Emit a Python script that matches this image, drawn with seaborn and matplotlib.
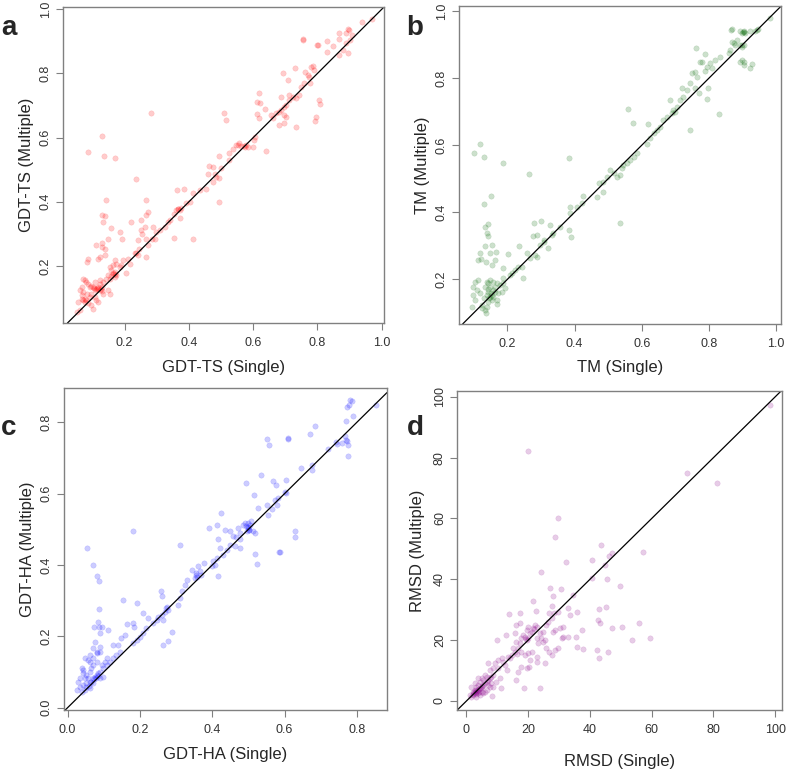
import numpy as np
import pandas as pd
import seaborn as sns
import matplotlib.pyplot as plt

# (single, multiple) pairs, one list per panel
gdt_ts_pairs = [
    (0.94, 0.96), (0.97, 0.97), (0.754, 0.906), (0.756, 0.904), (0.868, 0.925), (0.894, 0.938),
    (0.897, 0.936), (0.888, 0.925), (0.80, 0.889), (0.803, 0.889), (0.831, 0.901), (0.868, 0.906),
    (0.907, 0.92), (0.831, 0.868), (0.868, 0.858), (0.894, 0.865), (0.878, 0.873), (0.888, 0.894),
    (0.90, 0.905), (0.847, 0.884), (0.787, 0.824), (0.78, 0.82), (0.79, 0.81), (0.762, 0.806),
    (0.77, 0.795), (0.776, 0.77), (0.731, 0.816), (0.692, 0.80), (0.708, 0.78), (0.775, 0.79),
    (0.806, 0.717), (0.808, 0.704), (0.797, 0.663), (0.793, 0.653), (0.733, 0.632), (0.681, 0.639),
    (0.697, 0.644), (0.702, 0.663), (0.619, 0.738), (0.613, 0.712), (0.621, 0.707), (0.637, 0.689),
    (0.611, 0.673), (0.619, 0.66), (0.655, 0.67), (0.661, 0.66), (0.671, 0.676), (0.687, 0.686),
    (0.697, 0.696), (0.702, 0.702), (0.712, 0.717), (0.723, 0.728), (0.733, 0.722), (0.743, 0.733),
    (0.712, 0.733), (0.687, 0.728), (0.697, 0.67), (0.68, 0.68), (0.759, 0.769), (0.749, 0.759),
    (0.578, 0.577), (0.573, 0.571), (0.557, 0.582), (0.547, 0.577), (0.562, 0.574), (0.583, 0.571),
    (0.599, 0.571), (0.604, 0.592), (0.607, 0.603), (0.536, 0.566), (0.526, 0.551), (0.64, 0.559),
    (0.51, 0.676), (0.516, 0.655), (0.495, 0.542), (0.526, 0.53), (0.50, 0.504), (0.474, 0.509),
    (0.464, 0.511), (0.459, 0.488), (0.48, 0.488), (0.485, 0.478), (0.474, 0.462), (0.454, 0.441),
    (0.433, 0.436), (0.414, 0.426), (0.495, 0.473), (0.493, 0.398), (0.363, 0.438), (0.386, 0.439),
    (0.36, 0.374), (0.366, 0.379), (0.371, 0.374), (0.376, 0.382), (0.355, 0.363), (0.371, 0.348),
    (0.391, 0.395), (0.402, 0.40), (0.34, 0.343), (0.335, 0.337), (0.324, 0.322), (0.309, 0.311),
    (0.298, 0.306), (0.355, 0.288), (0.414, 0.283), (0.288, 0.322), (0.293, 0.285), (0.286, 0.285),
    (0.283, 0.676), (0.236, 0.47), (0.267, 0.405), (0.272, 0.369), (0.267, 0.358), (0.252, 0.343),
    (0.221, 0.337), (0.262, 0.322), (0.252, 0.311), (0.255, 0.301), (0.241, 0.28), (0.267, 0.285),
    (0.272, 0.265), (0.267, 0.228), (0.236, 0.239), (0.241, 0.233), (0.231, 0.239), (0.246, 0.254),
    (0.21, 0.223), (0.216, 0.207), (0.203, 0.178), (0.19, 0.202), (0.185, 0.197), (0.195, 0.218),
    (0.184, 0.306), (0.192, 0.285), (0.159, 0.317), (0.148, 0.285), (0.141, 0.405), (0.131, 0.605),
    (0.135, 0.543), (0.171, 0.535), (0.086, 0.554), (0.128, 0.358), (0.138, 0.355), (0.133, 0.337),
    (0.131, 0.259), (0.138, 0.254), (0.112, 0.265), (0.128, 0.27), (0.138, 0.233), (0.122, 0.228),
    (0.086, 0.223), (0.083, 0.212), (0.117, 0.223), (0.169, 0.218), (0.164, 0.202), (0.174, 0.207),
    (0.153, 0.197), (0.159, 0.186), (0.169, 0.181), (0.164, 0.176), (0.174, 0.171), (0.148, 0.171),
    (0.143, 0.16), (0.153, 0.16), (0.169, 0.166), (0.133, 0.15), (0.122, 0.145), (0.117, 0.134),
    (0.112, 0.129), (0.128, 0.134), (0.102, 0.134), (0.091, 0.134), (0.107, 0.124), (0.122, 0.124),
    (0.122, 0.155), (0.107, 0.15), (0.086, 0.145), (0.076, 0.155), (0.071, 0.16), (0.081, 0.15),
    (0.096, 0.114), (0.091, 0.103), (0.107, 0.103), (0.076, 0.088), (0.086, 0.083), (0.081, 0.093),
    (0.071, 0.093), (0.066, 0.108), (0.071, 0.119), (0.06, 0.124), (0.066, 0.134), (0.055, 0.088),
    (0.061, 0.062), (0.053, 0.056), (0.112, 0.093), (0.133, 0.114), (0.148, 0.124), (0.153, 0.114),
    (0.117, 0.088), (0.096, 0.077), (0.102, 0.067), (0.066, 0.098), (0.076, 0.098), (0.083, 0.114),
    (0.115, 0.131), (0.125, 0.128), (0.105, 0.131), (0.165, 0.179), (0.171, 0.176), (0.158, 0.168),
    (0.118, 0.127), (0.128, 0.121), (0.095, 0.138), (0.553, 0.576), (0.572, 0.574), (0.366, 0.376),
]

tm_pairs = [
    (0.98, 0.98), (0.947, 0.946), (0.942, 0.942), (0.937, 0.939), (0.923, 0.939), (0.905, 0.94),
    (0.901, 0.936), (0.898, 0.934), (0.893, 0.94), (0.908, 0.934), (0.868, 0.946), (0.865, 0.942),
    (0.903, 0.899), (0.893, 0.899), (0.898, 0.894), (0.898, 0.854), (0.903, 0.849), (0.893, 0.849),
    (0.903, 0.839), (0.923, 0.829), (0.928, 0.842), (0.863, 0.884), (0.873, 0.904), (0.858, 0.874),
    (0.883, 0.914), (0.868, 0.909), (0.878, 0.899), (0.833, 0.864), (0.818, 0.854), (0.804, 0.844),
    (0.794, 0.834), (0.789, 0.822), (0.809, 0.829), (0.761, 0.889), (0.789, 0.871), (0.779, 0.849),
    (0.774, 0.849), (0.749, 0.814), (0.758, 0.819), (0.764, 0.804), (0.798, 0.77), (0.794, 0.737),
    (0.769, 0.755), (0.758, 0.77), (0.744, 0.784), (0.734, 0.765), (0.724, 0.745), (0.714, 0.735),
    (0.704, 0.715), (0.694, 0.705), (0.689, 0.695), (0.674, 0.685), (0.664, 0.675), (0.719, 0.77),
    (0.684, 0.735), (0.699, 0.70), (0.831, 0.692), (0.744, 0.645), (0.56, 0.707), (0.573, 0.665),
    (0.618, 0.663), (0.655, 0.655), (0.645, 0.645), (0.635, 0.635), (0.625, 0.62), (0.615, 0.603),
    (0.585, 0.576), (0.576, 0.566), (0.566, 0.556), (0.555, 0.546), (0.545, 0.541), (0.54, 0.531),
    (0.535, 0.511), (0.526, 0.506), (0.516, 0.516), (0.506, 0.526), (0.496, 0.506), (0.486, 0.491),
    (0.474, 0.486), (0.486, 0.461), (0.466, 0.445), (0.535, 0.367), (0.382, 0.561), (0.263, 0.514),
    (0.426, 0.447), (0.421, 0.427), (0.406, 0.417), (0.387, 0.397), (0.385, 0.417), (0.382, 0.347),
    (0.39, 0.327), (0.357, 0.357), (0.337, 0.337), (0.332, 0.332), (0.327, 0.362), (0.309, 0.317),
    (0.322, 0.292), (0.299, 0.374), (0.28, 0.369), (0.287, 0.332), (0.275, 0.329), (0.297, 0.302),
    (0.282, 0.273), (0.287, 0.268), (0.267, 0.263), (0.258, 0.278), (0.236, 0.299), (0.201, 0.275),
    (0.246, 0.203), (0.243, 0.238), (0.233, 0.238), (0.223, 0.228), (0.213, 0.218), (0.208, 0.213),
    (0.102, 0.578), (0.119, 0.604), (0.131, 0.564), (0.186, 0.548), (0.152, 0.448), (0.131, 0.425),
    (0.133, 0.357), (0.141, 0.364), (0.14, 0.339), (0.143, 0.329), (0.132, 0.299), (0.153, 0.302),
    (0.119, 0.278), (0.114, 0.258), (0.122, 0.26), (0.136, 0.253), (0.149, 0.278), (0.162, 0.258),
    (0.166, 0.283), (0.153, 0.243), (0.188, 0.233), (0.114, 0.198), (0.138, 0.193), (0.148, 0.198),
    (0.132, 0.178), (0.148, 0.178), (0.158, 0.168), (0.168, 0.188), (0.178, 0.183), (0.188, 0.188),
    (0.193, 0.173), (0.143, 0.163), (0.138, 0.153), (0.148, 0.148), (0.158, 0.148), (0.153, 0.138),
    (0.143, 0.133), (0.129, 0.143), (0.119, 0.158), (0.109, 0.168), (0.099, 0.153), (0.104, 0.138),
    (0.099, 0.178), (0.124, 0.123), (0.138, 0.118), (0.132, 0.108), (0.136, 0.099), (0.124, 0.114),
    (0.094, 0.118), (0.168, 0.128), (0.168, 0.138), (0.173, 0.158), (0.183, 0.163), (0.163, 0.178),
    (0.188, 0.203), (0.143, 0.188), (0.158, 0.193), (0.104, 0.193), (0.151, 0.158), (0.155, 0.152),
    (0.146, 0.145), (0.141, 0.171), (0.162, 0.161), (0.904, 0.938), (0.899, 0.898), (0.31, 0.312),
]

gdt_ha_pairs = [
    (0.852, 0.848), (0.782, 0.863), (0.785, 0.86), (0.772, 0.842), (0.778, 0.848), (0.789, 0.817),
    (0.771, 0.803), (0.683, 0.79), (0.671, 0.767), (0.766, 0.761), (0.769, 0.751), (0.772, 0.748),
    (0.759, 0.742), (0.775, 0.737), (0.775, 0.706), (0.743, 0.745), (0.745, 0.74), (0.72, 0.726),
    (0.608, 0.756), (0.61, 0.753), (0.552, 0.753), (0.557, 0.735), (0.646, 0.672), (0.677, 0.681),
    (0.677, 0.667), (0.536, 0.653), (0.568, 0.634), (0.575, 0.625), (0.603, 0.639), (0.605, 0.602),
    (0.60, 0.604), (0.582, 0.587), (0.579, 0.567), (0.564, 0.558), (0.55, 0.567), (0.554, 0.541),
    (0.573, 0.583), (0.493, 0.631), (0.515, 0.595), (0.527, 0.559), (0.628, 0.494), (0.629, 0.478),
    (0.585, 0.436), (0.588, 0.436), (0.517, 0.431), (0.524, 0.402), (0.494, 0.508), (0.499, 0.503),
    (0.502, 0.499), (0.497, 0.494), (0.504, 0.513), (0.49, 0.517), (0.485, 0.513), (0.508, 0.522),
    (0.513, 0.494), (0.476, 0.489), (0.471, 0.503), (0.517, 0.489), (0.499, 0.517), (0.424, 0.545),
    (0.391, 0.503), (0.412, 0.513), (0.417, 0.473), (0.435, 0.497), (0.448, 0.494), (0.458, 0.48),
    (0.466, 0.477), (0.476, 0.473), (0.462, 0.452), (0.476, 0.447), (0.31, 0.455), (0.421, 0.447),
    (0.44, 0.443), (0.448, 0.457), (0.43, 0.428), (0.412, 0.419), (0.402, 0.41), (0.398, 0.396),
    (0.407, 0.40), (0.417, 0.368), (0.377, 0.405), (0.366, 0.382), (0.356, 0.377), (0.352, 0.363),
    (0.345, 0.386), (0.329, 0.358), (0.324, 0.344), (0.315, 0.326), (0.31, 0.307), (0.306, 0.288),
    (0.273, 0.279), (0.269, 0.269), (0.26, 0.26), (0.246, 0.246), (0.237, 0.237), (0.218, 0.223),
    (0.209, 0.209), (0.20, 0.199), (0.191, 0.19), (0.181, 0.181), (0.37, 0.372), (0.361, 0.396),
    (0.258, 0.326), (0.262, 0.312), (0.263, 0.246), (0.263, 0.176), (0.278, 0.187), (0.29, 0.213),
    (0.25, 0.255), (0.223, 0.251), (0.209, 0.265), (0.18, 0.494), (0.193, 0.293), (0.154, 0.302),
    (0.163, 0.234), (0.18, 0.237), (0.183, 0.227), (0.158, 0.204), (0.149, 0.195), (0.14, 0.176),
    (0.126, 0.176), (0.054, 0.447), (0.069, 0.40), (0.08, 0.368), (0.087, 0.356), (0.087, 0.276),
    (0.112, 0.218), (0.074, 0.227), (0.083, 0.24), (0.087, 0.227), (0.089, 0.209), (0.094, 0.227),
    (0.076, 0.185), (0.069, 0.167), (0.089, 0.171), (0.089, 0.157), (0.08, 0.152), (0.048, 0.138),
    (0.057, 0.134), (0.062, 0.129), (0.039, 0.11), (0.043, 0.106), (0.043, 0.096), (0.052, 0.092),
    (0.048, 0.082), (0.034, 0.082), (0.029, 0.073), (0.034, 0.059), (0.025, 0.05), (0.043, 0.064),
    (0.052, 0.068), (0.062, 0.073), (0.071, 0.082), (0.076, 0.087), (0.08, 0.092), (0.085, 0.096),
    (0.089, 0.101), (0.099, 0.11), (0.108, 0.12), (0.117, 0.129), (0.126, 0.138), (0.135, 0.148),
    (0.145, 0.157), (0.062, 0.101), (0.066, 0.11), (0.071, 0.12), (0.08, 0.129), (0.094, 0.12),
    (0.108, 0.138), (0.103, 0.129), (0.057, 0.082), (0.052, 0.059), (0.048, 0.05), (0.062, 0.054),
    (0.071, 0.068), (0.039, 0.045), (0.089, 0.082), (0.099, 0.087), (0.062, 0.148), (0.071, 0.138),
    (0.08, 0.157), (0.074, 0.079), (0.079, 0.084), (0.084, 0.088), (0.066, 0.071), (0.058, 0.062),
    (0.498, 0.506), (0.501, 0.497), (0.355, 0.372), (0.358, 0.367), (0.276, 0.281), (0.278, 0.275),
]

rmsd_pairs = [
    (98.4, 97.3), (71.4, 74.8), (81.1, 71.7), (20.0, 82.3), (29.7, 60.0), (28.6, 54.0),
    (57.1, 49.1), (43.5, 51.3), (40.5, 46.4), (47.0, 48.5), (46.2, 47.8), (44.9, 44.7),
    (45.4, 40.0), (40.5, 40.5), (49.7, 37.8), (32.2, 45.8), (24.1, 42.3), (27.2, 37.3),
    (30.5, 36.8), (28.1, 34.6), (34.6, 34.8), (21.6, 33.0), (22.5, 29.6), (13.8, 28.7),
    (17.5, 29.0), (27.8, 31.3), (26.8, 28.8), (28.4, 29.0), (29.7, 29.4), (32.8, 30.7),
    (33.5, 28.3), (35.7, 29.4), (42.9, 30.2), (45.1, 30.8), (43.2, 25.5), (42.7, 26.6),
    (37.5, 23.3), (47.0, 24.0), (50.3, 24.2), (55.9, 25.7), (53.7, 19.9), (59.5, 20.6),
    (45.9, 16.2), (42.4, 16.8), (43.0, 14.0), (37.8, 17.0), (35.7, 17.9), (35.5, 21.1),
    (18.7, 4.2), (23.8, 4.4), (8.4, 1.6), (28.1, 22.8), (28.6, 23.3), (30.3, 23.9),
    (31.4, 24.4), (30.8, 20.6), (31.4, 21.1), (33.0, 21.1), (25.9, 25.0), (26.5, 26.1),
    (27.6, 27.2), (24.9, 22.8), (23.8, 22.2), (22.7, 20.6), (23.2, 19.0), (24.9, 19.5),
    (25.9, 17.3), (26.8, 16.2), (27.6, 15.1), (28.6, 16.8), (29.7, 17.3), (25.4, 20.0),
    (24.3, 20.6), (20.5, 22.2), (21.1, 22.8), (21.6, 23.9), (22.2, 25.0), (22.7, 24.4),
    (20.0, 24.4), (19.5, 23.3), (18.4, 21.7), (17.8, 20.6), (18.9, 21.1), (19.5, 20.0),
    (17.3, 19.0), (16.2, 19.5), (16.8, 17.3), (15.7, 16.2), (15.1, 17.3), (14.6, 15.1),
    (14.1, 14.0), (13.5, 14.6), (17.8, 16.2), (18.9, 15.1), (20.0, 15.7), (21.1, 16.2),
    (22.7, 14.6), (20.5, 13.5), (19.5, 10.7), (20.3, 11.3), (22.7, 12.9), (25.4, 12.4),
    (17.8, 11.3), (16.8, 9.6), (16.2, 6.9), (12.4, 11.8), (13.0, 10.2), (11.9, 12.9),
    (11.4, 14.0), (10.3, 13.5), (9.9, 20.0), (12.8, 21.7), (15.7, 22.2), (16.2, 25.0),
    (17.3, 25.5), (10.8, 7.4), (11.1, 4.2), (9.7, 6.4), (8.6, 8.5), (7.6, 10.2),
    (7.0, 12.4), (8.6, 10.7), (10.3, 10.7), (9.2, 12.4), (1.6, 1.4), (2.2, 2.0),
    (2.7, 2.5), (3.2, 3.1), (3.8, 3.6), (4.3, 4.2), (4.9, 4.7), (5.4, 5.3),
    (5.9, 5.8), (6.5, 6.4), (7.0, 6.9), (7.6, 7.4), (8.1, 8.0), (2.2, 3.1),
    (2.7, 3.6), (3.2, 4.7), (3.8, 5.3), (4.3, 6.4), (5.4, 6.9), (6.5, 8.0),
    (1.6, 4.7), (2.7, 5.8), (3.8, 7.4), (4.9, 7.4), (5.9, 8.5), (4.3, 2.0),
    (5.4, 2.5), (6.5, 3.6), (7.6, 4.7), (8.6, 4.7), (5.9, 3.1), (3.2, 1.4),
    (4.9, 3.1), (7.0, 5.3), (8.1, 5.8), (1.1, 2.0), (3.0, 2.2), (4.1, 2.8),
    (2.5, 2.8), (3.5, 3.3), (3.0, 3.6), (4.0, 3.9), (4.6, 4.4), (2.0, 2.4),
    (3.6, 2.7), (5.1, 5.0), (19.2, 20.3), (19.8, 20.8), (22.0, 23.6), (16.5, 15.6),
]

# panel settings: letter, data, colour, axis name, limits, ticks, axes rect (figure fraction)
panels = [
    ("a", gdt_ts_pairs, "red", "GDT-TS", (0.008, 1.007), (0.022, 1.007),
     [0.2, 0.4, 0.6, 0.8, 1.0], [0.2, 0.4, 0.6, 0.8, 1.0], [0.0800, 0.5821, 0.4079, 0.4088]),
    ("b", tm_pairs, "darkgreen", "TM", (0.056, 1.014), (0.067, 1.015),
     [0.2, 0.4, 0.6, 0.8, 1.0], [0.2, 0.4, 0.6, 0.8, 1.0], [0.5832, 0.5809, 0.4091, 0.4114]),
    ("c", gdt_ha_pairs, "blue", "GDT-HA", (-0.010, 0.883), (-0.0065, 0.896),
     [0.0, 0.2, 0.4, 0.6, 0.8], [0.0, 0.2, 0.4, 0.6, 0.8], [0.0813, 0.0815, 0.4104, 0.4166]),
    ("d", rmsd_pairs, "darkmagenta", "RMSD", (-3.05, 102.2), (-2.96, 101.9),
     [0, 20, 40, 60, 80, 100], [0, 20, 40, 60, 80, 100], [0.5807, 0.0815, 0.4130, 0.4127]),
]

sns.set_style("white")
plt.rcParams["font.family"] = ["Liberation Sans", "DejaVu Sans"]

fig = plt.figure(figsize=(7.87, 7.73), dpi=100)

for letter, pairs, colour, name, xlim, ylim, xt, yt, rect in panels:
    df = pd.DataFrame(pairs, columns=["single", "multiple"])
    ax = fig.add_axes(rect)
    sns.scatterplot(data=df, x="single", y="multiple", ax=ax, color=colour,
                    alpha=0.2, s=15, edgecolor=colour, linewidth=0.3)
    ax.axline((0, 0), slope=1, color="black", lw=0.9)
    ax.set_xlim(*xlim)
    ax.set_ylim(*ylim)
    ax.set_xticks(xt)
    ax.set_yticks(yt)
    if letter == "d":
        ax.set_xticklabels([str(v) for v in xt])
        ax.set_yticklabels([str(v) for v in yt])
    else:
        ax.set_xticklabels([f"{v:.1f}" for v in xt])
        ax.set_yticklabels([f"{v:.1f}" for v in yt])
    for sp in ax.spines.values():
        sp.set_visible(True)
        sp.set_color("#808080")
        sp.set_linewidth(1.0)
    ax.tick_params(axis="both", bottom=True, left=True, direction="out", length=5,
                   width=0.8, color="#808080", labelsize=9, labelcolor="#333333")
    ax.tick_params(axis="x", pad=5)
    ax.tick_params(axis="y", pad=3)
    for lab in ax.get_yticklabels():
        lab.set_rotation(90)
        lab.set_va("center")
    ax.set_xlabel(f"{name} (Single)", fontsize=12)
    ax.set_ylabel(f"{name} (Multiple)", fontsize=12)
    h_px = rect[3] * 773
    w_px = rect[2] * 787
    below = 51 if letter == "d" else 44
    left = 40 if letter == "d" else 36
    ax.xaxis.label.set_va("center")
    ax.yaxis.label.set_va("center")
    ax.xaxis.set_label_coords(0.5, -below / h_px)
    ax.yaxis.set_label_coords(-left / w_px, 0.5)

# panel letters
for letter, x, y in [("a", 9, 35), ("b", 415, 35), ("c", 9, 435), ("d", 415, 435)]:
    fig.text(x / 787, 1 - y / 773, letter, fontsize=20, fontweight="bold",
             ha="center", va="baseline")

fig.savefig("out.png", dpi=100)
